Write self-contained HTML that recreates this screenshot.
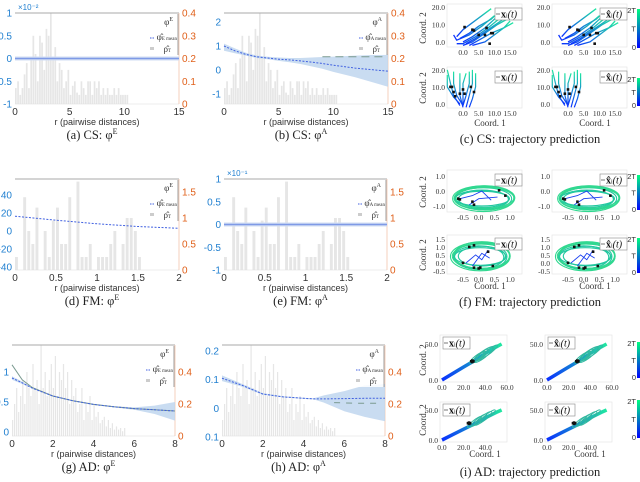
<!DOCTYPE html>
<html><head><meta charset="utf-8"><style>
body{margin:0;background:#fff}
svg{display:block}
text{font-family:"Liberation Sans",sans-serif}
.sf{font-family:"Liberation Serif",serif}
</style></head><body>
<svg id="fig" width="640" height="482" viewBox="0 0 640 482" xmlns="http://www.w3.org/2000/svg">
<defs>
<linearGradient id="cbar" x1="0" y1="1" x2="0" y2="0"><stop offset="0" stop-color="#0000ff"/><stop offset="1" stop-color="#00ff80"/></linearGradient>
</defs>
</svg>
<script>
// ---------- data ----------
const csHist=[0.07,0.1,0.04,0.07,0.13,0.18,0.07,0.2,0.3,0.22,0.1,0.3,0.27,0.15,0.33,0.3,0.4,0.2,0.25,0.1,0.18,0.15,0.07,0.1,0.15,0.04,0.08,0.1,0.05,0.04,0.1,0.07,0.04,0.1,0.1,0.04,0.1,0.07,0.1,0.04,0.07,0.04,0.07,0.04,0.04,0.07,0.04,0.07,0.04,0.04,0.04,0.04];
const fmHist=[0.25,0,1.4,0.75,0.5,1.2,0,0.75,0.25,0.95,1.2,0.5,0.5,1.4,0,1.7,0.25,0.25,0.5,0,0.25,0.25,0.25,0.5,0.75,0,0.5,1.0,1.0,0.75,0.25];
const adHist=[0.1,0.2,0.3,0.15,0.25,0.35,0.2,0.4,0.3,0.25,0.45,0.3,0.35,0.2,0.57,0.3,0.4,0.25,0.35,0.45,0.3,0.5,0.25,0.4,0.35,0.45,0.3,0.4,0.2,0.35,0.25,0.3,0.15,0.2,0.3,0.1,0.2,0.15,0.25,0.1,0.2,0.12,0.15,0.08,0.1,0.12,0.06,0.1,0.05,0.08,0.04,0.06,0.04,0.05,0.03,0.05];
const bR=[0,1,2,3,4,5,6,7,8,9,10,12,15];
const bMean=[1.0,0.8,0.65,0.55,0.5,0.45,0.42,0.38,0.33,0.27,0.2,0.08,-0.05];
const bLow=[0.8,0.7,0.6,0.5,0.45,0.38,0.32,0.25,0.15,0.05,-0.08,-0.3,-0.7];
const bUp=[1.1,0.9,0.72,0.6,0.55,0.52,0.5,0.5,0.52,0.54,0.56,0.6,0.65];
const bTrueR=[9,10.2,11,12.4,13.5,14.8];
const bTrue=[0.55,0.55,0.55,0.55,0.55,0.55];
const dR=[0,0.5,1,1.5,2];
const dMean=[16.5,12,8,5,3];
const gR=[0,0.5,1,2,3,4,5,6,7,8];
const gMean=[0.9,0.82,0.73,0.6,0.52,0.46,0.42,0.39,0.37,0.35];
const gLow=[0.87,0.8,0.72,0.59,0.51,0.45,0.41,0.37,0.3,0.19];
const gUp=[0.93,0.84,0.74,0.61,0.53,0.47,0.43,0.41,0.44,0.5];
const gTrue=[1.12,0.87,0.74,0.6,0.52,0.46,0.42,0.39,0.37,0.35];
const hR=[0,1,2,3,4,4.5,5,6,7,8];
const hMean=[0.105,0.08,0.05,0.04,0.035,0.033,0.033,0.034,0.035,0.035];
const hLow=[0.095,0.075,0.047,0.038,0.033,0.031,0.02,-0.01,-0.03,-0.045];
const hUp=[0.115,0.085,0.053,0.042,0.037,0.035,0.045,0.06,0.08,0.085];
const hTrueR=[5.5,6.5,7.6];
const hTrue=[0.02,0.018,0.018];

const csTopTraj=[[[-2,-1],[0,-1],[4,3],[8,8],[12,14]],[[-3,4],[-2,1],[2,4],[6,9],[10,15]],[[0,-2],[3,0],[7,5],[11,10],[15,14]],[[1,-1],[4,2],[8,7],[12,12],[15,16]],[[-1,2],[2,5],[5,9],[9,13],[12,18]],[[-2,3],[0,7],[3,11],[6,15],[9,19]],[[2,-2],[5,1],[9,5],[13,8],[16,11]],[[3,-2],[7,0],[10,4],[13,8],[15,12]],[[0,0],[3,3],[7,8],[10,13],[13,17]]];
const csTopDots=[[0.5,8.5],[3,7],[3.5,6.5],[5,4],[7,4],[7.5,8],[9,5],[9.5,5],[8.5,-1]];
const csBotTraj=[[[-1,-1],[-3,5],[-4,12],[-5,20]],[[0,-1],[-2,5],[-3,12],[-3,19]],[[0,-2],[-1,5],[-1,12],[-1,18]],[[0,-1],[0,6],[0,12],[1,18]],[[0,-1],[1,5],[2,12],[2,19]],[[1,-2],[2,5],[3,12],[3,20]],[[2,-2],[3,3],[4,10],[4,18]],[[-1,0],[-3,4],[-5,10],[-5,17]]];
const csBotDots=[[-4,10],[-3.5,10],[-3,7],[-2.5,4.5],[-1,6],[0,8.5],[0.5,6],[2.5,10],[3.5,7]];
const fmTopEll=[[0.15,-0.5,0.9,0.72],[0.2,-0.45,0.95,0.8],[0.1,-0.55,0.85,0.62],[0.15,-0.5,0.98,0.85],[0.15,-0.52,0.8,0.55],[0.2,-0.45,0.92,0.68],[0.1,-0.5,0.88,0.48],[0.18,-0.48,0.96,0.76]];
const fmTopDots=[[-0.65,-0.5],[-0.6,-0.55],[-0.2,-0.7],[-0.15,-0.9],[0.65,0.05],[0.85,-0.3]];
const fmBotEll=[[0.05,0.4,0.85,0.82],[0.1,0.45,0.9,0.88],[0,0.35,0.8,0.72],[0.05,0.4,0.95,0.9],[0.1,0.42,0.75,0.62],[0.1,0.45,0.88,0.8],[0.05,0.4,0.82,0.55],[0.08,0.42,0.92,0.76]];
const fmBotDots=[[-0.3,1.0],[-0.15,1.1],[0.3,0.7],[0.45,-0.2],[-0.5,0.0],[-0.15,-0.3],[0,-0.35],[0.05,-0.3]];
const adTraj=[[0,0],[10,9],[20,18],[30,27],[40,37],[50,46],[55,50]];
const adSwirlTop=[[32,31,8,3],[36,34,9,3.5],[40,37,10,4],[35,33,7,2.5],[44,40,9,3],[38,35,11,4.5]];
const adSwirlBot=[[30,30,8,3],[34,33,9,3.5],[38,36,10,4],[42,40,9,3]];

// ---------- helpers ----------
const svg=document.getElementById('fig');
const NS='http://www.w3.org/2000/svg';
let gid=0;
function mk(tag,attrs,name,parent){
  const el=document.createElementNS(NS,tag);
  for(const k in attrs) el.setAttribute(k,attrs[k]);
  
  
  (parent||svg).appendChild(el);
  return el;
}
function txt(x,y,s,size,fill,anchor,name,cls,parent){
  const t=mk('text',{x:x,y:y,'font-size':size,fill:fill,'text-anchor':anchor||'middle'},name,parent);
  if(cls) t.setAttribute('class',cls);
  t.textContent=s; return t;
}
function lin(d0,d1,p0,p1){return v=>p0+(v-d0)*(p1-p0)/(d1-d0);}
function pathOf(xs,ys,X,Y){return xs.map((v,i)=>(i?'L':'M')+X(v).toFixed(1)+' '+Y(ys[i]).toFixed(1)).join(' ');}
function bandOf(xs,lo,hi,X,Y){
  let d=xs.map((v,i)=>(i?'L':'M')+X(v).toFixed(1)+' '+Y(hi[i]).toFixed(1)).join(' ');
  for(let i=xs.length-1;i>=0;i--) d+='L'+X(xs[i]).toFixed(1)+' '+Y(lo[i]).toFixed(1);
  return d+'Z';
}

// ---------- scalar panels ----------
function scalarPanel(c){
  const g=mk('g',{},c.name);
  const X=lin(c.xd[0],c.xd[1],c.x0,c.x1);
  const YL=lin(c.l[0],c.l[2],c.l[1],c.l[3]);
  const YR=lin(c.r[0],c.r[2],c.r[1],c.r[3]);
  c.hist.forEach((h,i)=>{
    if(!h) return;
    const xa=X(i*c.bw), w=Math.max(1,X(c.bw*c.bf)-X(0));
    mk('rect',{x:xa.toFixed(1),y:YR(h).toFixed(1),width:w.toFixed(1),height:(c.yb-YR(h)).toFixed(1),fill:'#e6e6e6'},'histogram-bar',g);
  });
  mk('line',{x1:c.x0,y1:c.yt,x2:c.x1,y2:c.yt,stroke:'#aaa','stroke-width':1},'top-border',g);
  mk('line',{x1:c.x0,y1:c.yb,x2:c.x1,y2:c.yb,stroke:'#ddd','stroke-width':0.6},'x-axis-line',g);
  mk('line',{x1:c.x1,y1:c.yt,x2:c.x1,y2:c.yb,stroke:'#f0b090','stroke-width':0.6},'right-axis-line',g);
  if(c.band) mk('path',{d:bandOf(c.band[0],c.band[1],c.band[2],X,YL),fill:'#bcd3ee',opacity:0.8},'confidence-band',g);
  if(c.trueR) mk('path',{d:pathOf(c.trueR,c.trueV,X,YL),stroke:'#7a9a90','stroke-width':1,fill:'none','stroke-dasharray':c.trueDash||'none'},'true-kernel',g);
  if(c.meanR) mk('path',{d:pathOf(c.meanR,c.meanV,X,YL),stroke:'#4060e0','stroke-width':1,fill:'none','stroke-dasharray':'2 1.5'},'mean-kernel',g);
  if(c.flat!==undefined){
    mk('rect',{x:c.x0,y:YL(c.flat)-2,width:c.x1-c.x0,height:4,fill:'#d0dcf3'},'flat-band',g);
    mk('line',{x1:c.x0,y1:YL(c.flat),x2:c.x1,y2:YL(c.flat),stroke:'#7f9ae6','stroke-width':1.4},'flat-kernel',g);
  }
  c.lt.forEach(t=>txt(c.x0-3,YL(t[0])+3.5,t[1],10,'#1f7fd0','end','left-tick-label',null,g));
  c.rt.forEach(t=>txt(c.x1+3,YR(t)+3.5,String(t),10,'#e0601a','start','right-tick-label',null,g));
  c.xt.forEach(t=>txt(X(t),c.yb+11,String(t),10,'#333','middle','x-tick-label',null,g));
  if(c.exp) txt(c.x0+3,c.yt-3,c.exp,8,'#1f7fd0','start','y-exponent',null,g);
  txt((c.x0+c.x1)/2,c.yb+21,'r (pairwise distances)',9,'#333','middle','x-axis-title',null,g);
  const lx=c.x1-30, ly=c.yt+1;
  mk('rect',{x:lx,y:ly,width:29,height:41,fill:'#fff','fill-opacity':0.85},'legend-box',g);
  mk('line',{x1:c.x1-1,y1:ly,x2:c.x1-1,y2:ly+41,stroke:'#777','stroke-width':0.7},'legend-border',g);
  const l1=txt(lx+24,ly+11,'φ',9,'#333','end','legend-entry-true','sf',g);
  const s1=document.createElementNS(NS,'tspan');s1.setAttribute('font-size','6');s1.setAttribute('dy','-4');s1.textContent=c.sym;l1.appendChild(s1);
  mk('line',{x1:lx+1,y1:ly+24,x2:lx+5,y2:ly+24,stroke:'#4060e0','stroke-dasharray':'1.5 1'},'legend-mean-swatch',g);
  const l2=txt(lx+28,ly+26,'φ̂',9,'#333','end','legend-entry-mean','sf',g);
  const s2=document.createElementNS(NS,'tspan');s2.setAttribute('font-size','5');s2.textContent=c.sym+' mean';l2.appendChild(s2);
  mk('rect',{x:lx+1,y:ly+33,width:4,height:3,fill:'#ccc'},'legend-hist-swatch',g);
  const l3=txt(lx+22,ly+38,'ρ̂',9,'#333','end','legend-entry-density','sf',g);
  const s3=document.createElementNS(NS,'tspan');s3.setAttribute('font-size','5');s3.textContent='T';l3.appendChild(s3);
  const cap=txt((c.x0+c.x1)/2-5,c.yb+35,c.cap,12.5,'#222','middle','caption','sf',g);
  const cs=document.createElementNS(NS,'tspan');cs.setAttribute('font-size','8');cs.setAttribute('dy','-5');cs.textContent=c.sym;cap.appendChild(cs);
}

scalarPanel({name:'panel-a-cs-energy',x0:15,x1:179,xd:[0,15],yt:13,yb:104,l:[1,13,-1,104],r:[0.4,13,0,104],hist:csHist,bw:0.2,bf:0.8,
  flat:0,lt:[[1,'1'],[0.5,'0.5'],[0,'0'],[-0.5,'-0.5'],[-1,'-1']],rt:[0.4,0.3,0.2,0.1,0],xt:[0,5,10,15],exp:'×10⁻²',sym:'E',cap:'(a)  CS: φ'});
scalarPanel({name:'panel-b-cs-alignment',x0:224,x1:388,xd:[0,15],yt:13,yb:104,l:[2,22,-1,94],r:[0.4,13,0,104],hist:csHist,bw:0.2,bf:0.8,
  band:[bR,bLow,bUp],meanR:bR,meanV:bMean,trueR:bTrueR,trueV:bTrue,trueDash:'8 5',lt:[[2,'2'],[1,'1'],[0,'0'],[-1,'-1']],rt:[0.4,0.3,0.2,0.1,0],xt:[0,5,10,15],sym:'A',cap:'(b)  CS: φ'});
scalarPanel({name:'panel-d-fm-energy',x0:15,x1:179,xd:[0,2],yt:179,yb:270,l:[40,195,-40,267],r:[1.5,192,0,270],hist:fmHist,bw:0.05,bf:0.7,
  meanR:dR,meanV:dMean,lt:[[40,'40'],[20,'20'],[0,'0'],[-20,'-20'],[-40,'-40']],rt:[1.5,1,0.5,0],xt:[0,0.5,1,1.5,2],sym:'E',cap:'(d)  FM: φ'});
scalarPanel({name:'panel-e-fm-alignment',x0:224,x1:387,xd:[0,2],yt:179,yb:270,l:[1,179,-1,270],r:[1.5,192,0,270],hist:fmHist,bw:0.05,bf:0.7,
  flat:0,lt:[[1,'1'],[0.5,'0.5'],[0,'0'],[-0.5,'-0.5'],[-1,'-1']],rt:[1.5,1,0.5,0],xt:[0,0.5,1,1.5,2],exp:'×10⁻¹',sym:'A',cap:'(e)  FM: φ'});
scalarPanel({name:'panel-g-ad-energy',x0:12,x1:175,xd:[0,8],yt:345,yb:436,l:[1,372,0,432],r:[0.4,372,0,436],hist:adHist,bw:0.1,bf:0.6,
  band:[gR,gLow,gUp],trueR:gR,trueV:gTrue,meanR:gR,meanV:gMean,lt:[[1,'1'],[0.5,'0.5'],[0,'0']],rt:[0.4,0.2,0],xt:[0,2,4,6,8],sym:'E',cap:'(g)  AD: φ'});
scalarPanel({name:'panel-h-ad-alignment',x0:222,x1:385,xd:[0,8],yt:345,yb:436,l:[0.2,351,-0.1,437],r:[0.4,372,0,436],hist:adHist,bw:0.1,bf:0.6,
  band:[hR,hLow,hUp],trueR:hTrueR,trueV:hTrue,trueDash:'6 6',meanR:hR,meanV:hMean,lt:[[0.2,'0.2'],[0.1,'0.1'],[0,'0'],[-0.1,'0.1']],rt:[0.4,0.2,0],xt:[0,2,4,6,8],sym:'A',cap:'(h)  AD: φ'});

// ---------- trajectory subplots ----------
function gradFor(p0,p1){
  gid++;
  const lg=mk('linearGradient',{id:'tg'+gid,gradientUnits:'userSpaceOnUse',x1:p0[0],y1:p0[1],x2:p1[0],y2:p1[1]},'trajectory-gradient',svg.querySelector('defs'));
  mk('stop',{offset:0,'stop-color':'#0a30ff'},'gradient-stop',lg);
  mk('stop',{offset:1,'stop-color':'#20e8a0'},'gradient-stop',lg);
  return 'url(#tg'+gid+')';
}
function trajPlot(c){
  const g=mk('g',{},c.name);
  const X=lin(c.xd[0],c.xd[1],c.bx[0],c.bx[2]);
  const Y=lin(c.yd[0],c.yd[1],c.bx[3],c.bx[1]);
  mk('rect',{x:c.bx[0],y:c.bx[1],width:c.bx[2]-c.bx[0],height:c.bx[3]-c.bx[1],fill:'none',stroke:'#e2e2e2','stroke-width':0.6},'plot-frame',g);
  if(c.traj) c.traj.forEach(t=>{
    const xs=t.map(p=>p[0]), ys=t.map(p=>p[1]);
    const st=gradFor([X(xs[0]),Y(ys[0])],[X(xs[xs.length-1]),Y(ys[ys.length-1])]);
    mk('path',{d:pathOf(xs,ys,X,Y),stroke:st,'stroke-width':c.w||1.3,fill:'none','stroke-linejoin':'round'},'trajectory',g);
  });
  if(c.ell) c.ell.forEach((e,i)=>{
    mk('ellipse',{cx:X(e[0]),cy:Y(e[1]),rx:Math.abs(X(e[2])-X(0)),ry:Math.abs(Y(e[3])-Y(0)),fill:'none',stroke:i%2?'#30d890':'#22c8a0','stroke-width':1.1},'orbit',g);
  });
  if(c.inner) c.inner.forEach(t=>{
    mk('path',{d:pathOf(t.map(p=>p[0]),t.map(p=>p[1]),X,Y),stroke:'#1a40f0','stroke-width':0.9,fill:'none'},'inner-trajectory',g);
  });
  if(c.swirl) c.swirl.forEach(e=>{
    mk('ellipse',{cx:X(e[0]),cy:Y(e[1]),rx:Math.abs(X(e[2])-X(0)),ry:Math.abs(Y(e[3])-Y(0)),transform:'rotate(-38 '+X(e[0])+' '+Y(e[1])+')',fill:'none',stroke:'#30b8a0','stroke-width':0.9},'swirl',g);
  });
  if(c.dots) c.dots.forEach(p=>mk('rect',{x:X(p[0])-1.3,y:Y(p[1])-1.3,width:2.6,height:2.6,fill:'#111'},'initial-point',g));
  c.xt.forEach(t=>txt(X(t[0]),c.bx[3]+8,t[1],7.5,'#333','middle','x-tick-label','sf',g));
  c.yt.forEach(t=>txt(c.bx[0]-2,Y(t[0])+3,t[1],7.5,'#333','end','y-tick-label','sf',g));
  const lx=c.lg[0], ly=c.lg[1];
  mk('rect',{x:lx,y:ly,width:27,height:12,fill:'#fff',stroke:'#888','stroke-width':0.6},'legend-box',g);
  mk('line',{x1:lx+1,y1:ly+6,x2:lx+5,y2:ly+6,stroke:'#555','stroke-width':0.8},'legend-swatch',g);
  const t=txt(lx+6,ly+9.5,c.hat?'x̂':'x',10,'#111','start','legend-label','sf',g);
  t.setAttribute('font-weight','bold');
  const sb=document.createElementNS(NS,'tspan');sb.setAttribute('font-size','6');sb.setAttribute('font-weight','normal');sb.textContent='i';t.appendChild(sb);
  const rest=document.createElementNS(NS,'tspan');rest.setAttribute('font-weight','normal');rest.setAttribute('font-style','italic');rest.textContent='(t)';t.appendChild(rest);
}
function colorbar(x,y0,y1,name){
  const g=mk('g',{},name);
  mk('rect',{x:x,y:y0,width:3,height:y1-y0,fill:'url(#cbar)'},'colorbar',g);
  txt(x-1,y0+4,'2T',7.5,'#333','end','colorbar-label',null,g);
  txt(x-1,(y0+y1)/2+3,'T',7.5,'#333','end','colorbar-label',null,g);
  txt(x-1,y1+2,'0',7.5,'#333','end','colorbar-label',null,g);
}
function ylab(x,y,name){const t=txt(x,y,'Coord. 2',9,'#333','middle',name,'sf');t.setAttribute('transform','rotate(-90 '+x+' '+y+')');}

const csXT=[[0,'0.0'],[5,'5.0'],[10,'10.0'],[15,'15.0']], csYT=[[20,'20.0'],[10,'10.0'],[0,'0.0']];
[0,105].forEach((dx,k)=>{
  trajPlot({name:'cs-top-'+k,bx:[447+dx,4,522+dx,47],xd:[-5.1,18.8],yd:[-2.9,21.7],traj:csTopTraj,dots:csTopDots,xt:csXT,yt:csYT,lg:[495+dx,8],hat:k});
  trajPlot({name:'cs-bottom-'+k,bx:[447+dx,67,522+dx,108],xd:[-5.1,18.8],yd:[-2.4,21.7],traj:csBotTraj,dots:csBotDots,xt:csXT,yt:csYT,lg:[495+dx,71],hat:k,w:1.2});
  const fX=[[-0.5,'-0.5'],[0,'0.0'],[0.5,'0.5'],[1,'1.0']];
  trajPlot({name:'fm-top-'+k,bx:[447+dx,170,522+dx,212],xd:[-1.01,1.38],yd:[-1.38,1.39],ell:fmTopEll,inner:[[[-0.6,-0.5],[-0.2,-0.3],[0.1,0.0],[0.4,-0.6]],[[-0.3,-0.9],[0,-0.5],[0.6,-0.4]]],dots:fmTopDots,xt:fX,yt:[[1,'1.0'],[0,'0.0'],[-1,'-1.0']],lg:[495+dx,174],hat:k});
  trajPlot({name:'fm-bottom-'+k,bx:[447+dx,235,522+dx,274],xd:[-1.01,1.38],yd:[-0.7,1.75],ell:fmBotEll,inner:[[[-0.4,0.0],[-0.1,0.5],[0.1,0.2],[0.3,0.8]],[[-0.2,-0.2],[0.1,0.6],[0.35,0.3]]],dots:fmBotDots,xt:fX,yt:[[1.5,'1.5'],[1,'1.0'],[0.5,'0.5'],[0,'0.0'],[-0.5,'-0.5']],lg:[495+dx,238],hat:k});
  trajPlot({name:'ad-top-'+k,bx:[440+dx,335,507+dx,382],xd:[-1.8,60],yd:[-2.8,62.5],traj:[adTraj],swirl:adSwirlTop,dots:[[27,26],[28,27],[29,26],[28,25]],xt:[[0,'0.0'],[20,'20.0'],[40,'40.0'],[60,'60.0']],yt:[[50,'50.0'],[0,'0.0']],lg:[443+dx,337],hat:k,w:3.5});
  trajPlot({name:'ad-bottom-'+k,bx:[440+dx,402,507+dx,442],xd:[-1.8,60],yd:[-3.3,63.3],traj:[adTraj],swirl:adSwirlBot,dots:[[24,28],[25,29],[26,28],[25,27]],xt:[[0,'0.0'],[20,'20.0'],[40,'40.0']],yt:[[50,'50.0'],[0,'0.0']],lg:[443+dx,404],hat:k,w:3.5});
});
colorbar(637,9,48,'cs-colorbar-top');colorbar(637,78,106,'cs-colorbar-bottom');
colorbar(637,175,210,'fm-colorbar-top');colorbar(637,238,273,'fm-colorbar-bottom');
colorbar(637,342,378,'ad-colorbar-top');colorbar(637,400,438,'ad-colorbar-bottom');
ylab(426,28,'cs-y-title-top');ylab(426,88,'cs-y-title-bottom');
ylab(426,192,'fm-y-title-top');ylab(426,255,'fm-y-title-bottom');
ylab(426,360,'ad-y-title-top');ylab(426,420,'ad-y-title-bottom');
txt(490,126,'Coord. 1',9,'#333','middle','cs-x-title-left','sf');txt(595,126,'Coord. 1',9,'#333','middle','cs-x-title-right','sf');
txt(490,289,'Coord. 1',9,'#333','middle','fm-x-title-left','sf');txt(595,289,'Coord. 1',9,'#333','middle','fm-x-title-right','sf');
txt(485,457,'Coord. 1',9,'#333','middle','ad-x-title-left','sf');txt(590,457,'Coord. 1',9,'#333','middle','ad-x-title-right','sf');
txt(530,143,'(c)  CS: trajectory prediction',12.5,'#222','middle','caption-c','sf');
txt(530,306,'(f)  FM: trajectory prediction',12.5,'#222','middle','caption-f','sf');
txt(530,476,'(i)  AD: trajectory prediction',12.5,'#222','middle','caption-i','sf');
</script>
</body></html>
